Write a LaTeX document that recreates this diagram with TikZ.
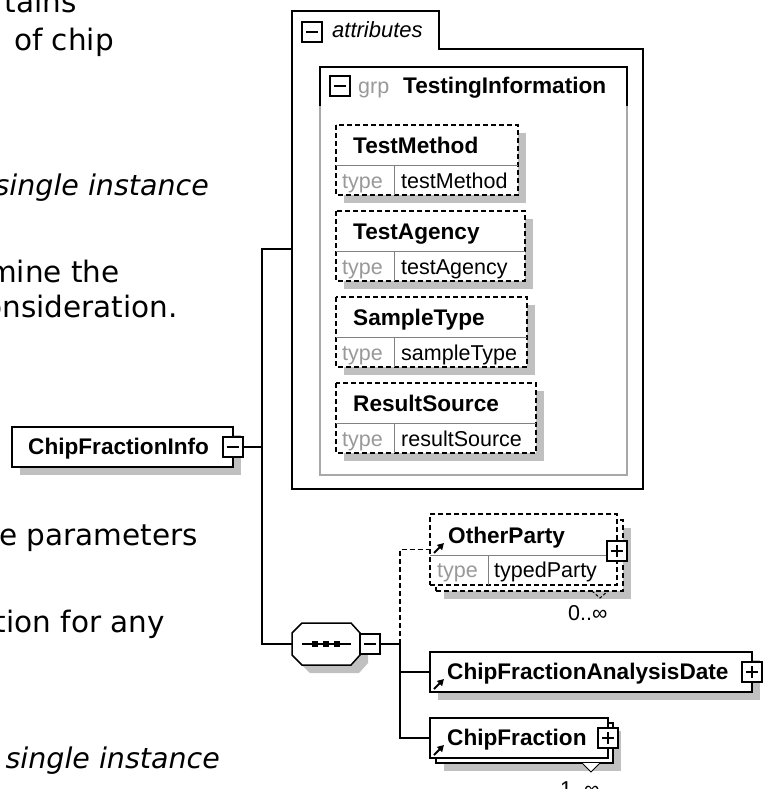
\documentclass[tikz,border=0pt]{standalone}
\usepackage{fontspec}
\setmainfont{DejaVu Sans}
\newfontfamily\diagfont{Liberation Sans}
\usetikzlibrary{arrows.meta, shadows}

\tikzset{
    blackline/.style={line width=1.5pt, draw=black},
    optline/.style={blackline, dash pattern=on 5pt off 3pt},
    shadowed/.style={drop shadow={shadow xshift=8pt, shadow yshift=-8pt, fill=shadowColour, opacity=1}},
    elembox/.style={blackline, fill=white, inner sep=0pt},
    optbox/.style={optline, fill=white, inner sep=0pt},
    toggle/.style={draw, line width=1.3pt, fill=white, minimum size=20pt, inner sep=0pt},
    minusbox/.style={toggle, path picture={
        \draw[line width=1.3pt] ([xshift=-6pt]path picture bounding box.center) -- ([xshift=6pt]path picture bounding box.center);}},
    plusbox/.style={toggle, path picture={
        \draw[line width=1.3pt] ([xshift=-6pt]path picture bounding box.center) -- ([xshift=6pt]path picture bounding box.center);
        \draw[line width=1.3pt] ([yshift=-6pt]path picture bounding box.center) -- ([yshift=6pt]path picture bounding box.center);}},
    refarrow/.style={-{Triangle[length=6.5pt,width=7pt]}, line width=1.8pt},
    titletext/.style={font=\diagfont\bfseries\fontsize{22.6}{26}\selectfont, anchor=base west, inner sep=0pt},
    typetext/.style={font=\diagfont\fontsize{21.5}{26}\selectfont, anchor=base west, inner sep=0pt},
    pagetext/.style={font=\fontsize{29.5}{34}\selectfont, anchor=base east, inner sep=0pt},
    pageitalic/.style={pagetext, font=\itshape\fontsize{28.5}{34}\selectfont}
}

\begin{document}
\begin{tikzpicture}[x=1pt, y=-1pt]
    % Define colours
    \definecolor{shadowColour}{HTML}{C0C0C0}
    \definecolor{greyText}{HTML}{999999}
    \definecolor{groupBorder}{HTML}{A8A8A8}
    \definecolor{dividerColour}{HTML}{808080}

    % Page size
    \path[use as bounding box, fill=white] (0,0) rectangle (763,789);

    % Page text cut off by the picture
    \node[pagetext] (line1) at (77,13) {tains};
    \node[pagetext] (line2) at (114,51) {of chip};
    \node[pageitalic] (line3) at (209,195) {single instance};
    \node[pagetext] (line4) at (120,282) {mine the};
    \node[pagetext] (line5) at (178,317) {onsideration.};
    \node[pagetext] (line6) at (198,545) {e parameters};
    \node[pagetext] (line7) at (165,632) {tion for any};
    \node[pageitalic] (line8) at (220,768) {single instance};

    % Define connector points
    \coordinate (trunk) at (262,447);
    \coordinate (attrin) at (292,249);
    \coordinate (seqin) at (292,644);
    \coordinate (fork) at (400,644);

    % Draw attributes box with its tab
    \draw[blackline] (292,11) -- (439,11) -- (439,49) -- (643,49) -- (643,489) -- (292,489) -- cycle;
    \node[minusbox] (attrtoggle) at (312,32) {};
    \node[typetext, font=\diagfont\itshape\fontsize{22}{26}\selectfont] (attrlabel) at (332,38) {attributes};

    % Draw attribute group
    \draw[groupBorder, line width=1.3pt] (320,106) -- (320,475) -- (627,475) -- (627,106);
    \draw[blackline] (320,106) -- (320,67) -- (627,67) -- (627,106);
    \node[minusbox] (grptoggle) at (340,86) {};
    \node[typetext, text=greyText] (grplabel) at (358,94) {grp};
    \node[titletext] (grpname) at (403,94) {TestingInformation};

    % Draw attributes
    \foreach \attrname/\attrtype/\boxright [count=\i from 0] in {TestMethod/testMethod/518, TestAgency/testAgency/525, SampleType/sampleType/527, ResultSource/resultSource/536} {
        \pgfmathsetmacro{\boxtop}{125+86*\i}
        \filldraw[optline, fill=white, shadowed] (336,\boxtop) rectangle (\boxright,\boxtop+70);
        \draw[dividerColour, line width=1pt] (336,\boxtop+40) -- (\boxright,\boxtop+40);
        \draw[dividerColour, line width=1pt] (394,\boxtop+40) -- (394,\boxtop+70);
        \node[titletext] (attr\i) at (353,\boxtop+28) {\attrname};
        \node[typetext, text=greyText] (attrkind\i) at (342,\boxtop+63) {type};
        \node[typetext] (attrtype\i) at (401,\boxtop+63) {\attrtype};
    }

    % Draw root element
    \node[elembox, shadowed, minimum width=221pt, minimum height=40pt] (info) at (122.5,447) {};
    \node[titletext] (infolabel) at (28,454) {ChipFractionInfo};
    \node[minusbox] (infotoggle) at (233,447) {};

    % Draw sequence compositor
    \filldraw[blackline, fill=white, shadowed] (302,623) -- (351,623) -- (360,633) -- (360,655) -- (351,665) -- (302,665) -- (292,655) -- (292,633) -- cycle;
    \draw[blackline] (302,644) -- (351,644);
    \foreach \x in {315,326,337}
        \fill (\x-3,641) rectangle (\x+3,647);
    \node[minusbox] (seqtoggle) at (370,644) {};

    % Draw OtherParty (optional, repeated)
    \node[optbox, shadowed, minimum width=187pt, minimum height=71pt] (otherback) at (529.5,555.5) {};
    \node[optbox, minimum width=187pt, minimum height=71pt] (other) at (523.5,549.5) {};
    \draw[dividerColour, line width=1pt] (430,555) -- (617,555);
    \draw[dividerColour, line width=1pt] (488,555) -- (488,585);
    \node[titletext] (otherlabel) at (448,543) {OtherParty};
    \node[typetext, text=greyText] (otherkind) at (437,577) {type};
    \node[typetext] (othertype) at (494,577) {typedParty};
    \node[plusbox] (othertoggle) at (617,551) {};
    \draw[refarrow] (434,553) -- (444,543);
    \draw[line width=1pt, dash pattern=on 3pt off 2pt] (592,591) -- (600,598) -- (608,591);
    \node[typetext] (otheroccurs) at (568,620) {0..∞};

    % Draw ChipFractionAnalysisDate
    \node[elembox, shadowed, minimum width=322pt, minimum height=40pt] (date) at (591,672) {};
    \node[titletext] (datelabel) at (447,679) {ChipFractionAnalysisDate};
    \node[plusbox] (datetoggle) at (752,672) {};
    \draw[refarrow] (434,689) -- (444,679);

    % Draw ChipFraction (repeated)
    \node[elembox, shadowed, minimum width=177pt, minimum height=40pt] (fracback) at (524.5,743) {};
    \node[elembox, minimum width=178pt, minimum height=40pt] (frac) at (519,738) {};
    \node[titletext] (fraclabel) at (447,745) {ChipFraction};
    \node[plusbox] (fractoggle) at (608,738) {};
    \draw[refarrow] (434,755) -- (444,745);
    \filldraw[fill=white, line width=1pt] (582,763) -- (591,772) -- (600,763);
    \node[typetext] (fracoccurs) at (560,796) {1..∞};

    % Draw connectors
    \draw[blackline] (infotoggle.east) -- (trunk);
    \draw[blackline] (attrin) -| (trunk) |- (seqin);
    \draw[blackline] (seqtoggle.east) -- (fork);
    \draw[optline] (fork) |- (other.west);
    \draw[blackline] (fork) |- (date.west);
    \draw[blackline] (fork) |- (frac.west);

\end{tikzpicture}
\end{document}
